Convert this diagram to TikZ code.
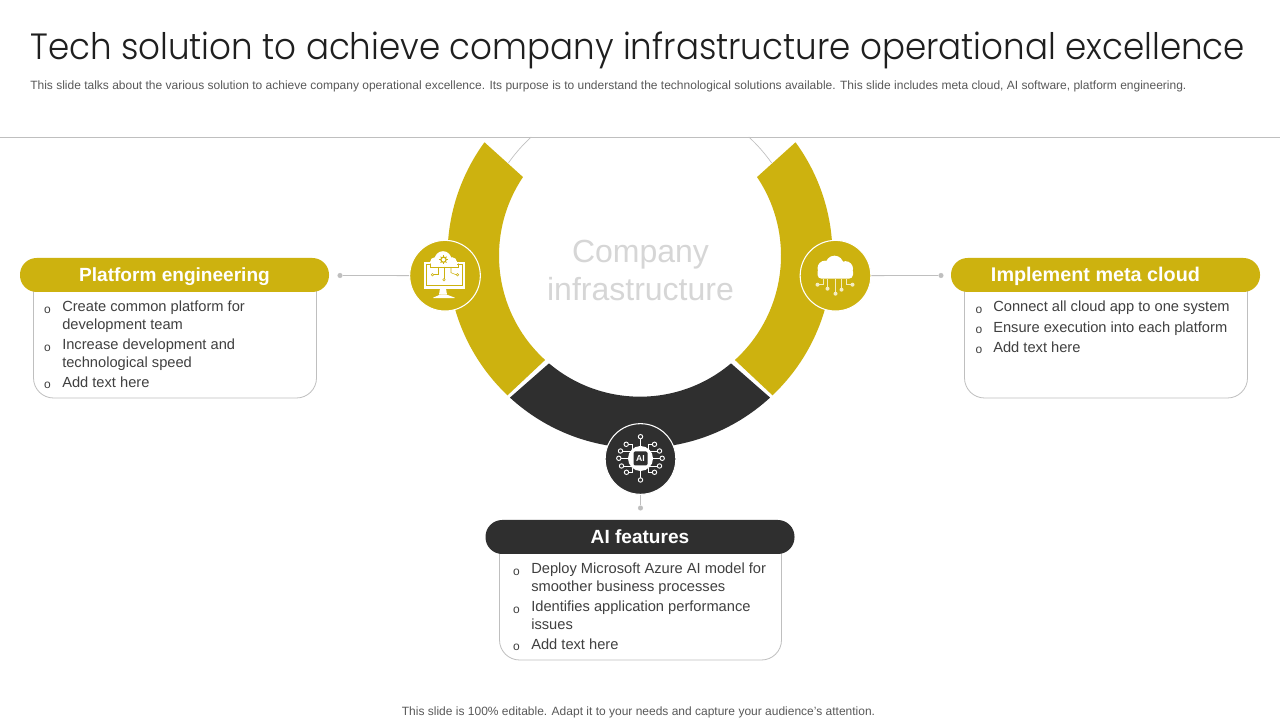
\documentclass[tikz,border=0pt]{standalone}
\usepackage{fontspec}
\setmainfont{Liberation Sans}
\newfontfamily\ttlfont{Poppins Light}[FakeStretch=0.934]
\usetikzlibrary{calc}
\definecolor{gold}{HTML}{CDB20F}
\definecolor{darkc}{HTML}{2F2F2F}
\definecolor{rulec}{HTML}{BFBFBF}
\definecolor{bodyc}{HTML}{404040}
\newcommand{\itemfont}{\fontsize{11pt}{13.5pt}\selectfont}
\newcommand{\pilltext}[1]{\raisebox{0pt}[9.5pt][0pt]{#1}}
\tikzset{
  x=0.75pt,y=0.75pt,
  pill/.style={rounded corners=12.5pt,minimum width=231.75pt,minimum height=25.5pt,inner sep=0pt,text=white,font=\fontsize{14.3pt}{16pt}\selectfont\bfseries},
  bodybox/.style={draw=rulec,line width=0.6pt,fill=white,rounded corners=15pt},
  itemtext/.style={anchor=north west,inner sep=0pt,align=left,text=bodyc,font=\itemfont,yshift=-2.4pt},
  bul/.style={anchor=center,inner sep=0pt,text=bodyc,font=\fontsize{9pt}{10pt}\selectfont},
  badge/.style={circle,draw=white,line width=0.8pt,minimum size=53pt,inner sep=0pt},
  dotn/.style={circle,fill=rulec,minimum size=3.8pt,inner sep=0pt},
  conn/.style={draw=rulec,line width=0.6pt},
  ico/.style={draw=#1,line width=0.4pt,line cap=round},
}
\begin{document}
\begin{tikzpicture}
\useasboundingbox (0,0) rectangle (1280,720);
\fill[white] (0,0) rectangle (1280,720);
\coordinate (c) at (640,464.3);

% title block
\node[anchor=base west,inner sep=0pt,text=black!88,font=\ttlfont\fontsize{27.4pt}{30pt}\selectfont] (title) at (30,660) {Tech solution to achieve company infrastructure operational excellence};
\node[anchor=base west,inner sep=0pt,text=black!65,font=\fontsize{9pt}{11pt}\selectfont] (sub) at (30,630) {This slide talks about the various solution to achieve company operational excellence. Its purpose is to understand the technological solutions available. This slide includes meta cloud, AI software, platform engineering.};
\draw[rulec,line width=0.7pt] (0,582.5) -- (1280,582.5);
\node[anchor=base,inner sep=0pt,text=black!65,font=\fontsize{9pt}{11pt}\selectfont] (foot) at (638.5,4) {This slide is 100\% editable. Adapt it to your needs and capture your audience's attention.};

% thin arcs
\draw[rulec,line width=0.5pt] ([shift={(144.8:161)}]c) arc[start angle=144.8,end angle=132.5,radius=161];
\draw[rulec,line width=0.5pt] ([shift={(35.2:161)}]c) arc[start angle=35.2,end angle=47.5,radius=161];

% ring
\fill[gold] ([shift={(143.9:192.5)}]c) arc[start angle=143.9,end angle=226.5,radius=192.5]
  -- ([shift={(227.7:141)}]c) arc[start angle=227.7,end angle=146.1,radius=141] -- cycle;
\fill[gold] ([shift={(36.1:192.5)}]c) arc[start angle=36.1,end angle=-46.5,radius=192.5]
  -- ([shift={(-47.7:141)}]c) arc[start angle=-47.7,end angle=33.9,radius=141] -- cycle;
\fill[darkc] ([shift={(227.5:192.5)}]c) arc[start angle=227.5,end angle=312.5,radius=192.5]
  -- ([shift={(310.2:141)}]c) arc[start angle=310.2,end angle=229.8,radius=141] -- cycle;

\node[anchor=center,align=center,inner sep=0pt,text=black!16,font=\fontsize{24pt}{28.9pt}\selectfont] (hub) at (640.5,449.5) {Company\\infrastructure};

% badges
\node[badge,fill=gold] (bl) at (445,444.3) {};
\node[badge,fill=gold] (br) at (835.5,444.3) {};
\node[badge,fill=darkc] (bb) at (640.5,261) {};

% connectors
\node[dotn] (dl) at (340,444.5) {};
\node[dotn] (dr) at (941,444.5) {};
\node[dotn] (db) at (640.5,212) {};
\draw[conn] (dl) -- (bl);
\draw[conn] (br) -- (dr);
\draw[conn] (bb) -- (db);

% left card
\draw[bodybox] (33.5,445) -- (33.5,322) -- (316.5,322) -- (316.5,445);
\node[pill,fill=gold] (pl) at (174.5,445) {\pilltext{Platform engineering}};
\node[bul] (l1b) at (47.5,410) {o};
\node[itemtext] (l1) at (62,423) {Create common platform for\\development team};
\node[bul] (l2b) at (47.5,372) {o};
\node[itemtext] (l2) at (62,385) {Increase development and\\technological speed};
\node[bul] (l3b) at (47.5,335) {o};
\node[itemtext] (l3) at (62,347) {Add text here};

% right card
\draw[bodybox] (964.5,445) -- (964.5,322) -- (1247.5,322) -- (1247.5,445);
\node[pill,fill=gold] (pr) at (1105.5,445) {\hspace*{-15pt}\pilltext{\fontsize{14.85pt}{16pt}\selectfont Implement meta cloud}};
\node[bul] (r1b) at (979,410) {o};
\node[itemtext] (r1) at (993,423) {Connect all cloud app to one system};
\node[bul] (r2b) at (979,390) {o};
\node[itemtext] (r2) at (993,402) {Ensure execution into each platform};
\node[bul] (r3b) at (979,370) {o};
\node[itemtext] (r3) at (993,382) {Add text here};

% bottom card
\draw[bodybox] (499.5,183) -- (499.5,60) -- (781.5,60) -- (781.5,183);
\node[pill,fill=darkc] (pb) at (640,183) {\pilltext{AI features}};
\node[bul] (b1b) at (516.5,148) {o};
\node[itemtext] (b1) at (531,161) {Deploy Microsoft Azure AI model for\\smoother business processes};
\node[bul] (b2b) at (516.5,110) {o};
\node[itemtext] (b2) at (531,123) {Identifies application performance\\issues};
\node[bul] (b3b) at (516.5,73) {o};
\node[itemtext] (b3) at (531,85) {Add text here};

% monitor icon
\begin{scope}[shift={(bl.center)},yscale=-1]
  \fill[white] (-21,-14) rectangle (19.5,13);
  \draw[ico=gold,line width=0.25pt] (-19,-12) rectangle (17.5,9);
  \fill[white] (-5,13) -- (1,13) -- (2,19) -- (-6,19) -- cycle;
  \fill[white,rounded corners=1pt] (-13,22.5) -- (-5,19) -- (2,19) -- (11,22.5) -- cycle;
  \fill[white] (-14,-15) rectangle (12,-8.5);
  \fill[white] (-2,-16) circle (8.5);
  \fill[white] (-10,-13.5) circle (5);
  \fill[white] (7,-13.5) circle (5);
  \draw[gold,line width=0.9pt] (-1.5,-16) circle (2.6);
  \foreach \a in {0,45,...,315}{\draw[gold,line width=0.6pt] (-1.5,-16) ++(\a:2.6) -- ++(\a:1.6);}
  \draw[ico=gold] (-15,-12) -- (-15,-8.5) -- (13,-8.5) -- (13,-12);
  \draw[ico=gold] (-1,-8.5) -- (-1,3);
  \draw[ico=gold] (-7,-8.5) -- (-7,-1) -- (-11,-1);
  \draw[ico=gold] (6,-8.5) -- (6,-3) -- (11,-1);
  \draw[ico=gold] (-12.5,-1) circle (1.2) (-1,4) circle (1.2) (12.5,-1) circle (1.2);
\end{scope}

% cloud icon
\begin{scope}[shift={(br.center)},yscale=-1]
  \fill[white] (-10.5,-7.5) circle (7.5);
  \fill[white] (-1,-11) circle (9);
  \fill[white] (10,-7) circle (7.5);
  \fill[white,rounded corners=3pt] (-18,-8) rectangle (17.5,3);
  \foreach \px/\py/\qx in {-18/9/-12, 17/9/11}{
    \draw[white!75!gold,line width=0.8pt] (\px,\py) -- (\qx,\py) -- (\qx,3);
    \fill[white!75!gold] (\px,\py) circle (2);
  }
  \foreach \qx/\qy in {-8/13,0/18,6/14}{
    \draw[white!75!gold,line width=0.8pt] (\qx,3) -- (\qx,\qy);
    \fill[white!75!gold] (\qx,\qy) circle (2);
  }
\end{scope}

% AI chip icon
\begin{scope}[shift={(bb.center)},yscale=-1]
  \foreach \px/\py/\qx/\qy in {0/-22.3/0/-10, -14.3/-14.7/-8/-9, -20/-8/-9/-5, -21.7/-0.7/-10/-0.7, -19/7/-9/5, -14/13.3/-8/9, 0/21/0/10, 14/13.3/8/9, 19/7/9/5, 21.7/-0.7/10/-0.7, 19/-8/9/-5, 14/-14.7/8/-9}{
    \draw[white,line width=0.7pt] (\px,\py) -- (\qx,\py) -- (\qx,\qy);
    \draw[white,line width=0.7pt,fill=darkc] (\px,\py) circle (2.2);
  }
  \fill[white] (0,-0.5) circle (12.5);
  \fill[darkc,rounded corners=1pt] (-7,-7.5) rectangle (7,6.5);
  \node[text=white,inner sep=0pt,font=\fontsize{6.5pt}{6.5pt}\selectfont\bfseries] (chip) at (0,-0.5) {AI};
\end{scope}
\end{tikzpicture}
\end{document}
